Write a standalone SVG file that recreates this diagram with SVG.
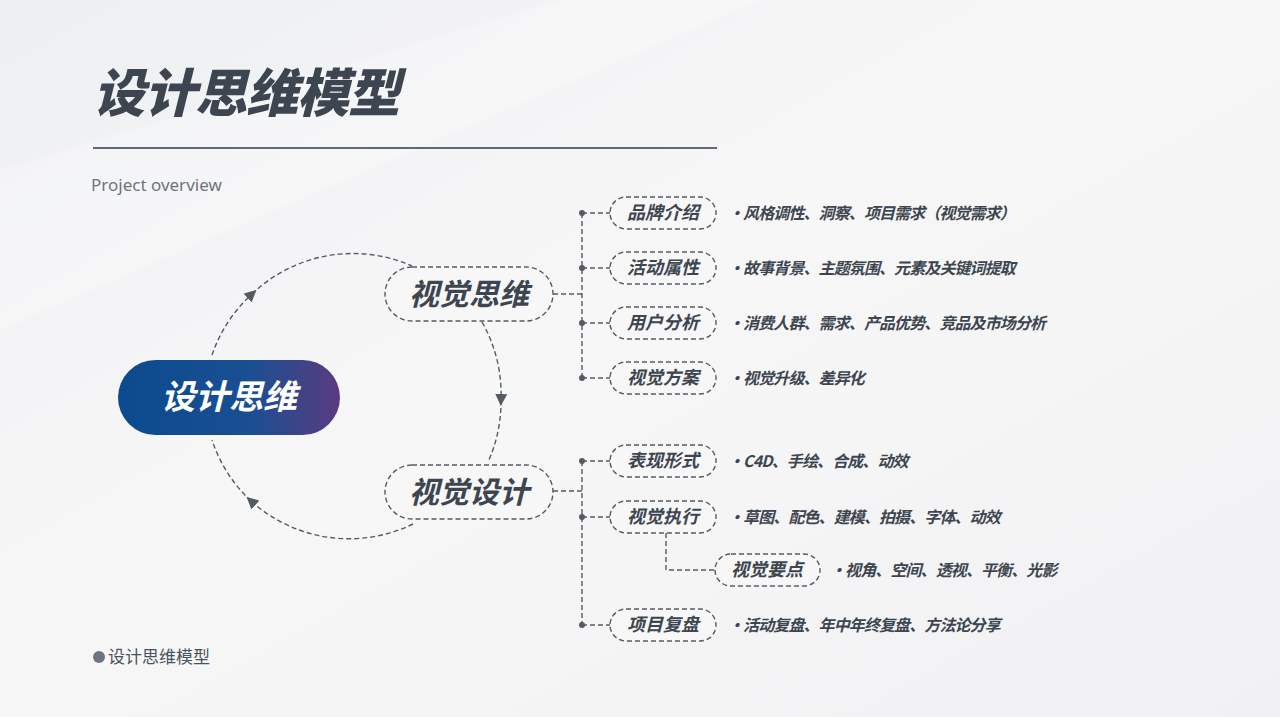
<svg xmlns="http://www.w3.org/2000/svg" width="1280" height="717" viewBox="0 0 1280 717">
<defs>
<linearGradient id="bg" x1="0" y1="0" x2="1" y2="1">
<stop offset="0" stop-color="#eeeff1"/><stop offset="0.45" stop-color="#f7f7f8"/><stop offset="1" stop-color="#f1f1f3"/>
</linearGradient>
<linearGradient id="pill" x1="0" y1="0" x2="1" y2="0">
<stop offset="0" stop-color="#0b4a8e"/><stop offset="0.6" stop-color="#1a4f92"/><stop offset="1" stop-color="#5b3a80"/>
</linearGradient>
<marker id="arr" viewBox="0 0 10 10" refX="5" refY="5" markerWidth="12" markerHeight="12" markerUnits="userSpaceOnUse" orient="auto">
<path d="M0,0 L10,5 L0,10 z" fill="#555b62"/>
</marker>
<style>
.cn{font-family:"Noto Sans CJK SC","Noto Sans",sans-serif}
.lbl{font-weight:bold;font-style:italic;fill:#3d4650;text-anchor:middle}
.desc{font-style:italic;font-weight:bold;fill:#3d4650;font-size:16px;letter-spacing:-0.9px}
.dash{fill:none;stroke:#555b62;stroke-width:1.4;stroke-dasharray:5 3}
.box{fill:#f7f7f8;stroke:#555b62;stroke-width:1.4;stroke-dasharray:5 3}
.dot{fill:#555b62}
</style>
</defs>
<rect width="1280" height="717" fill="url(#bg)"/>
<polygon points="0,170 560,0 760,0 0,330" fill="#ffffff" opacity="0.25"/>
<text x="93" y="112" class="cn" font-size="52" font-weight="900" font-style="italic" fill="#3d4650" letter-spacing="-1">设计思维模型</text>
<line x1="93" y1="148" x2="717" y2="148" stroke="#2a3a4a" stroke-width="1.5"/>
<text x="91" y="191" font-family="Noto Sans,sans-serif" font-size="17" fill="#6b7580">Project overview</text>
<g id="connectors">
<path class="dash" d="M212,355 A146,146 0 0 1 252,294" marker-end="url(#arr)"/>
<path class="dash" d="M252,294 A146,146 0 0 1 412,266"/>
<path class="dash" d="M482,322 A146,146 0 0 1 501,400" marker-end="url(#arr)"/>
<path class="dash" d="M501,400 A146,146 0 0 1 488,462"/>
<path class="dash" d="M413,524 A146,146 0 0 1 251,501" marker-end="url(#arr)"/>
<path class="dash" d="M251,501 A146,146 0 0 1 212,440"/>
<path class="dash" d="M553,294 H582 M582,213 V378 M582,213 H610 M582,268 H610 M582,323 H610 M582,378 H610"/>
<path class="dash" d="M553,491 H582 M582,461 V625 M582,461 H610 M582,517 H610 M582,625 H610 M666,533 V570 H715"/>
<circle class="dot" cx="582" cy="213" r="3"/><circle class="dot" cx="582" cy="268" r="3"/>
<circle class="dot" cx="582" cy="323" r="3"/><circle class="dot" cx="582" cy="378" r="3"/>
<circle class="dot" cx="582" cy="461" r="3"/><circle class="dot" cx="582" cy="517" r="3"/>
<circle class="dot" cx="582" cy="625" r="3"/>
</g>
<g id="center"><rect x="118" y="360" width="222" height="75" rx="37.5" fill="url(#pill)"/>
<text x="229" y="409" class="cn" font-size="34" font-weight="bold" font-style="italic" fill="#fff" text-anchor="middle">设计思维</text></g>
<g id="n-think"><rect class="box" x="385" y="267" width="168" height="54" rx="27"/><text x="469" y="305" class="cn lbl" font-size="30">视觉思维</text></g>
<g id="n-design"><rect class="box" x="385" y="465" width="168" height="54" rx="27"/><text x="469" y="503" class="cn lbl" font-size="30">视觉设计</text></g>
<g id="n1"><rect class="box" x="610" y="197" width="106" height="32" rx="16"/><text x="663" y="219" class="cn lbl" font-size="18">品牌介绍</text><text x="728" y="219" class="cn desc">•风格调性、洞察、项目需求（视觉需求）</text></g>
<g id="n2"><rect class="box" x="610" y="252" width="106" height="32" rx="16"/><text x="663" y="274" class="cn lbl" font-size="18">活动属性</text><text x="728" y="274" class="cn desc">•故事背景、主题氛围、元素及关键词提取</text></g>
<g id="n3"><rect class="box" x="610" y="307" width="106" height="32" rx="16"/><text x="663" y="329" class="cn lbl" font-size="18">用户分析</text><text x="728" y="329" class="cn desc">•消费人群、需求、产品优势、竞品及市场分析</text></g>
<g id="n4"><rect class="box" x="610" y="362" width="106" height="32" rx="16"/><text x="663" y="384" class="cn lbl" font-size="18">视觉方案</text><text x="728" y="384" class="cn desc">•视觉升级、差异化</text></g>
<g id="n5"><rect class="box" x="610" y="445" width="106" height="32" rx="16"/><text x="663" y="467" class="cn lbl" font-size="18">表现形式</text><text x="728" y="467" class="cn desc">•C4D、手绘、合成、动效</text></g>
<g id="n6"><rect class="box" x="610" y="501" width="106" height="32" rx="16"/><text x="663" y="523" class="cn lbl" font-size="18">视觉执行</text><text x="728" y="523" class="cn desc">•草图、配色、建模、拍摄、字体、动效</text></g>
<g id="n7"><rect class="box" x="715" y="554" width="105" height="32" rx="16"/><text x="767" y="576" class="cn lbl" font-size="18">视觉要点</text><text x="830" y="576" class="cn desc">•视角、空间、透视、平衡、光影</text></g>
<g id="n8"><rect class="box" x="610" y="609" width="106" height="32" rx="16"/><text x="663" y="631" class="cn lbl" font-size="18">项目复盘</text><text x="728" y="631" class="cn desc">•活动复盘、年中年终复盘、方法论分享</text></g>
<circle cx="99" cy="657" r="6" fill="#6b7580"/>
<text x="108" y="663" class="cn" font-size="17" fill="#4a525a">设计思维模型</text>
</svg>
